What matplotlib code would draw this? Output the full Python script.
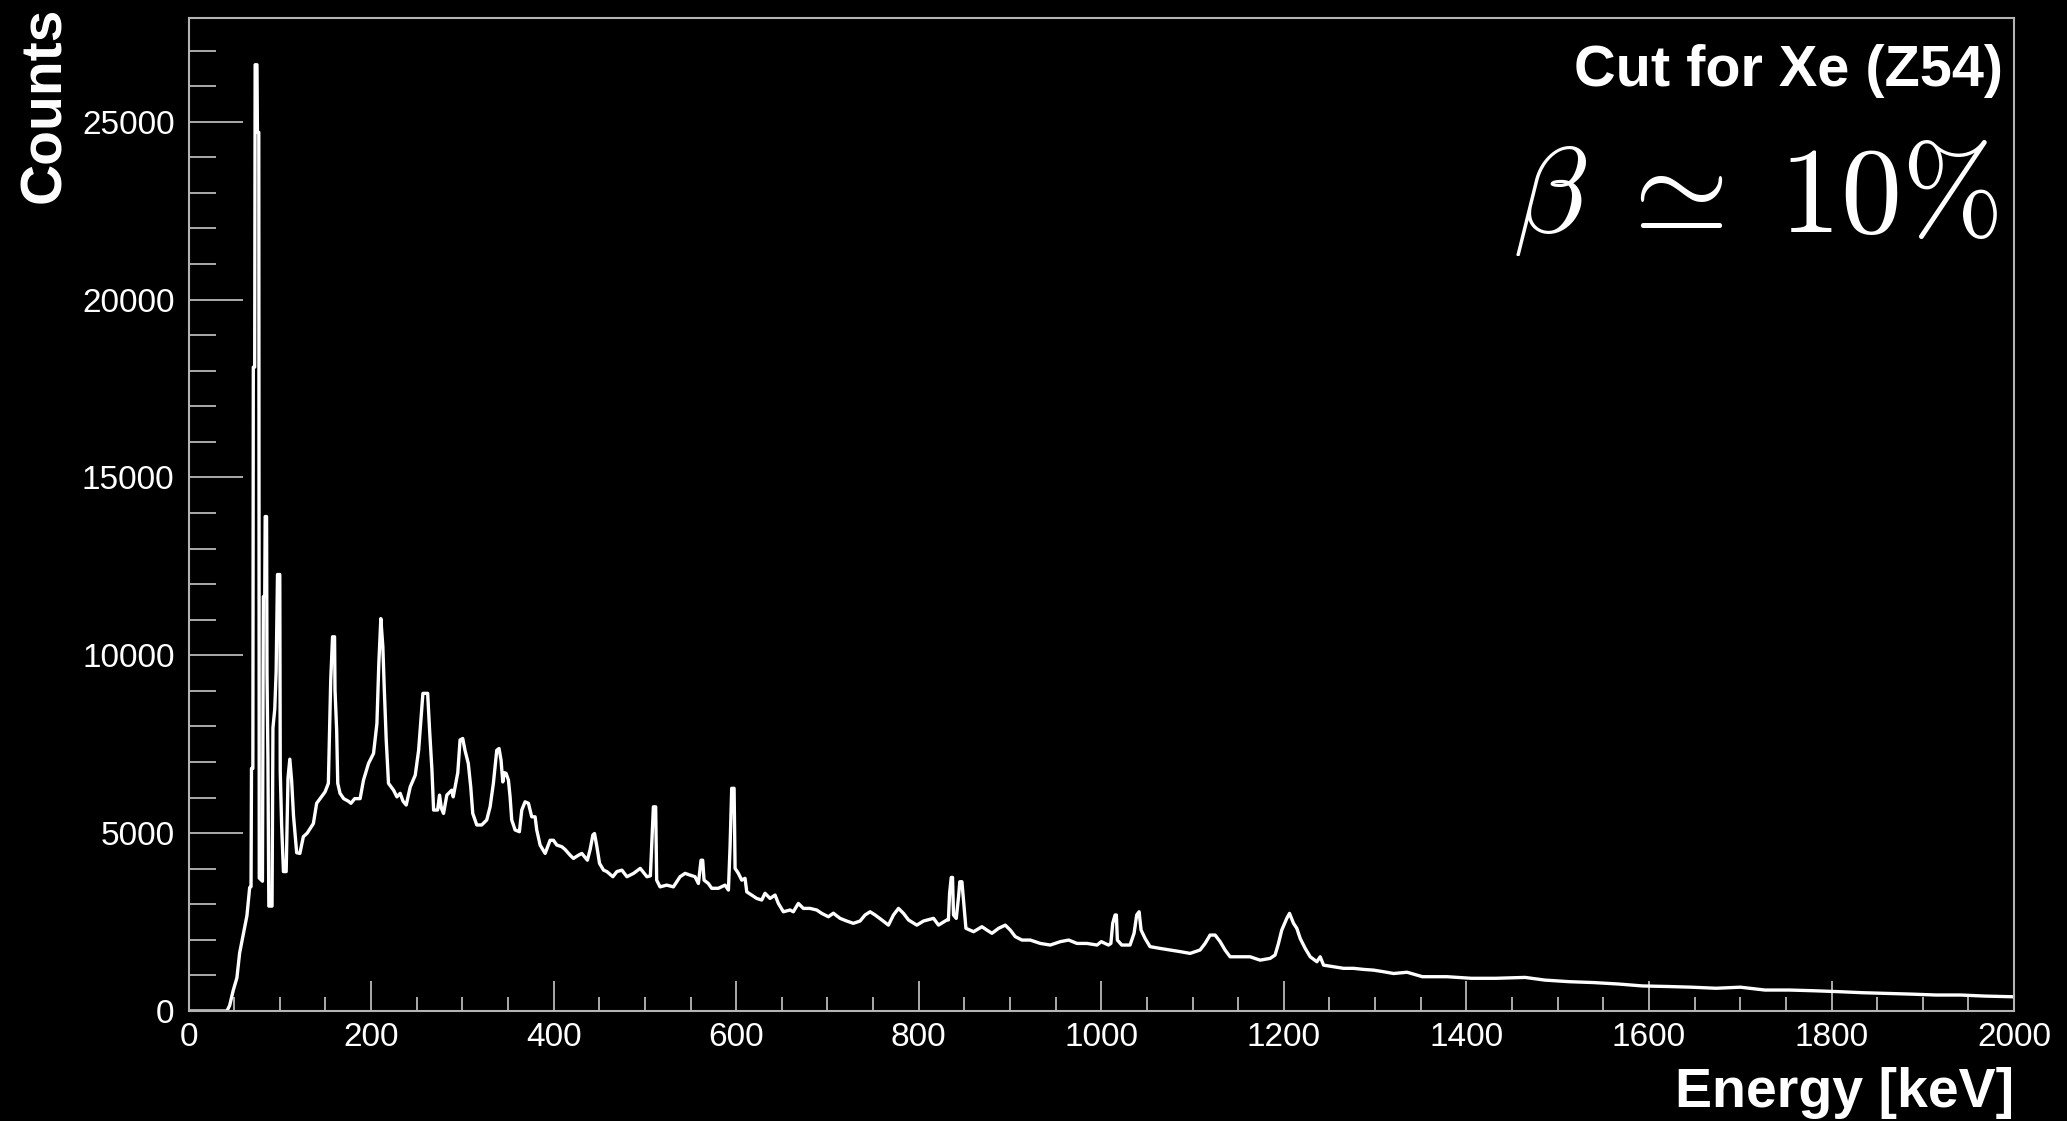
import matplotlib
matplotlib.use("Agg")
import matplotlib.pyplot as plt
from matplotlib.ticker import MultipleLocator

plt.rcParams["font.family"] = ["Liberation Sans", "DejaVu Sans"]

# Energy spectrum (keV, counts)
energy = [
    0, 42, 45, 49, 53, 56, 60, 64, 67, 68.5, 69, 70.5, 71, 72.5, 73, 75, 75.5, 77,
    77.5, 81, 82, 83.5, 84, 85.5, 86, 87, 88, 91.5, 92.5, 94.5, 96, 97.5, 100,
    100.5, 102, 104, 107, 109, 111, 113, 115, 118.5, 122, 125.8, 130, 136.8,
    140.4, 145, 149.6, 153.2, 155.8, 157.8, 160, 160.5, 162.3, 163.5, 166, 170,
    175, 178, 182, 188, 191.7, 197.2, 202.7, 206.4, 208.5, 210.7, 212.9, 214.4,
    216.6, 219.1, 224.6, 228.3, 231.9, 235, 238.5, 242.9, 248.4, 252.1, 254.6,
    256.8, 262, 264.1, 266.7, 268.5, 272.9, 275, 277, 279.4, 283, 288.5, 290,
    295, 297.5, 300.4, 302.9, 306.5, 309.2, 311.4, 315.8, 321.2, 326.7, 330.4,
    334, 337.7, 340.2, 342.4, 344.3, 346, 347.9, 350.5, 352.3, 354.1, 357.8,
    362.5, 365.1, 368.7, 372.4, 376, 379.7, 381.5, 385.2, 390.7, 396.1, 399.8,
    403.5, 408.9, 412.6, 418.1, 421.7, 427.2, 430.9, 437, 440, 443, 444.8,
    447.4, 450.3, 454.7, 458.3, 464.9, 469.3, 474.8, 480.3, 487.6, 494.9,
    502.2, 506, 507.5, 509.3, 511.8, 512.9, 516.6, 523.9, 531.2, 538.5, 544,
    549.5, 554.9, 558.6, 561.5, 563.3, 564.8, 569.5, 573.2, 580.5, 587.8,
    591.5, 593.3, 595.1, 597.7, 598.8, 602.4, 606.1, 609.7, 611.6, 617, 622.5,
    628, 631.6, 637.1, 642.6, 646.2, 651.7, 659, 662.6, 668.1, 673.6, 680.9,
    688.2, 693.7, 701, 706.5, 713.8, 721.1, 728.4, 735.7, 741.2, 746.7, 752.2,
    759.5, 766.8, 772.3, 777.8, 783.3, 788.8, 797.9, 805.2, 816.2, 821.7,
    830.8, 832.5, 833.8, 835.6, 837, 838.1, 841.1, 843.6, 845, 847.3, 849.9,
    851.7, 860.1, 869.2, 874.7, 880.2, 887.5, 894.8, 900.3, 905.8, 913.1,
    922.2, 933.2, 944.1, 955.1, 964.2, 973.4, 984.3, 995.3, 1000, 1007.8,
    1010.5, 1012.5, 1015.1, 1016.5, 1017.6, 1022.4, 1031.5, 1035.9, 1038.8,
    1041.4, 1043.6, 1048, 1053.4, 1064.4, 1075.4, 1086.3, 1097.3, 1108.2,
    1113.7, 1119.2, 1124.7, 1130.2, 1135.6, 1141.1, 1152.1, 1163, 1174, 1185,
    1190.4, 1194.1, 1197.7, 1203.2, 1206.2, 1210.6, 1214.2, 1217.9, 1223.4,
    1228.9, 1236.2, 1239.8, 1243.5, 1254.4, 1265.4, 1276.3, 1287.3, 1298.2,
    1309.2, 1320.2, 1335, 1351.8, 1378.6, 1405.4, 1432.2, 1464.3, 1485.8,
    1512.6, 1539.4, 1566.2, 1593, 1619.8, 1646.6, 1673.4, 1700.2, 1727,
    1753.8, 1780.6, 1807.4, 1834.2, 1861, 1887.8, 1914.6, 1941.4, 1968.2, 2000,
]
counts = [
    0, 0, 150, 580, 930, 1630, 2160, 2680, 3470, 3500, 6820, 6820, 18100, 18100,
    26600, 26600, 24700, 24700, 3740, 3650, 11650, 11650, 13900, 13900, 9450,
    7080, 2950, 2950, 7960, 8490, 9540, 12270, 12270, 6730, 5240, 3920, 3920,
    6550, 7080, 6470, 5500, 4450, 4430, 4900, 5000, 5270, 5840, 6000, 6160,
    6400, 9300, 10520, 10520, 9020, 7900, 6400, 6120, 5970, 5900, 5840, 5970,
    5970, 6490, 6960, 7240, 8080, 9770, 11030, 10240, 9110, 7620, 6400, 6210,
    6020, 6120, 5900, 5790, 6300, 6630, 7330, 8180, 8930, 8930, 7900, 6770,
    5650, 5650, 6070, 5700, 5555, 6070, 6210, 6020, 6700, 7620, 7660, 7330,
    6960, 6300, 5555, 5230, 5230, 5370, 5740, 6400, 7330, 7380, 7050, 6440,
    6700, 6680, 6490, 6020, 5370, 5090, 5040, 5650, 5880, 5840, 5460, 5460,
    5090, 4665, 4430, 4800, 4800, 4665, 4620, 4540, 4380, 4290, 4380, 4430,
    4240, 4540, 4950, 4990, 4620, 4150, 3960, 3920, 3775, 3920, 3960, 3775,
    3870, 4010, 3775, 3800, 4710, 5740, 5740, 3680, 3490, 3540, 3490, 3775,
    3870, 3820, 3775, 3585, 4240, 4240, 3680, 3585, 3450, 3450, 3540, 3400,
    4620, 6260, 6260, 4010, 3870, 3680, 3730, 3350, 3260, 3165, 3120, 3310,
    3165, 3260, 3025, 2790, 2840, 2790, 3025, 2885, 2885, 2840, 2745, 2650,
    2750, 2605, 2530, 2465, 2530, 2700, 2790, 2700, 2560, 2415, 2700, 2885,
    2745, 2560, 2415, 2530, 2605, 2415, 2560, 2560, 3305, 3755, 3755, 2700,
    2605, 3210, 3635, 3635, 2840, 2325, 2230, 2370, 2275, 2185, 2325, 2415,
    2275, 2090, 1995, 1995, 1900, 1855, 1950, 1995, 1900, 1900, 1855, 1950,
    1855, 1900, 2465, 2700, 2700, 1995, 1855, 1855, 2185, 2700, 2790, 2275,
    2040, 1810, 1760, 1715, 1670, 1620, 1715, 1900, 2135, 2135, 1950, 1715,
    1525, 1525, 1525, 1430, 1480, 1575, 1900, 2275, 2605, 2745, 2465, 2325,
    2040, 1760, 1525, 1385, 1525, 1290, 1245, 1200, 1200, 1170, 1150, 1105,
    1055, 1090, 965, 965, 920, 920, 945, 870, 825, 800, 760, 705, 690, 670,
    640, 670, 590, 590, 570, 545, 515, 495, 475, 450, 450, 420, 400,
]

x_ticks = [0, 200, 400, 600, 800, 1000, 1200, 1400, 1600, 1800, 2000]
y_ticks = [0, 5000, 10000, 15000, 20000, 25000]

fig = plt.figure(figsize=(20.67, 11.21), dpi=100, facecolor="black")
ax = fig.add_axes([0.0912, 0.0981, 0.8832, 0.8854])
ax.set_facecolor("black")

ax.plot(energy, counts, color="white", lw=2.4)

ax.set_xlim(0, 2000)
ax.set_ylim(0, 27900)
ax.set_xticks(x_ticks)
ax.set_yticks(y_ticks)
ax.xaxis.set_minor_locator(MultipleLocator(50))
ax.yaxis.set_minor_locator(MultipleLocator(1000))

for s in ax.spines.values():
    s.set_color("#b4b4b4")
    s.set_linewidth(1.5)

ax.tick_params(which="both", direction="in", color="#c8c8c8", labelcolor="white",
               top=False, right=False, width=1.2)
ax.tick_params(axis="y", which="major", length=39, pad=10, labelsize=24)
ax.tick_params(axis="y", which="minor", length=19.5)
ax.tick_params(axis="x", which="major", length=21.6, pad=8, labelsize=24)
ax.tick_params(axis="x", which="minor", length=10)

fig.text(0.9744, 1 - 1107 / 1121, "Energy [keV]", color="white", fontsize=40,
         fontweight="bold", ha="right", va="baseline")
fig.text(45 / 2067, 1 - 6.6 / 1121, "Counts", color="white", fontsize=41,
         fontweight="bold", rotation=90, ha="center", va="top")
fig.text(2003 / 2067, 1 - 86 / 1121, "Cut for Xe (Z54)", color="white",
         fontsize=41.5, fontweight="bold", ha="right", va="baseline")
fig.text(1999 / 2067, 1 - 232 / 1121, r"$\beta\;\simeq\;10\%$", color="white",
         fontsize=88, math_fontfamily="cm", ha="right", va="baseline")

fig.savefig("out.png", dpi=100, facecolor="black")
